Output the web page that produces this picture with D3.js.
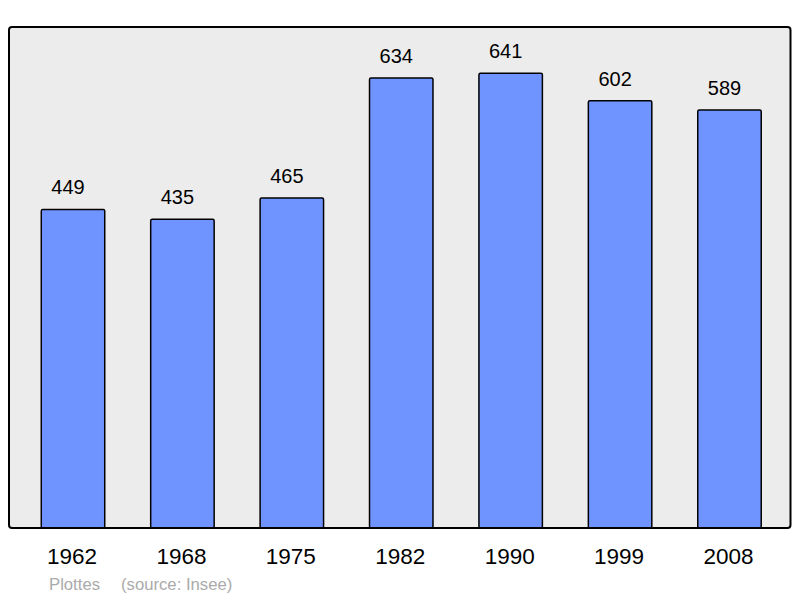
<!DOCTYPE html>
<html>
<head>
<meta charset="utf-8">
<script src="https://cdn.jsdelivr.net/npm/d3@7"></script>
<style>
  body { margin: 0; background: #fff; }
  text { font-family: "Liberation Sans", Arial, sans-serif; }
</style>
</head>
<body>
<svg id="chart" width="800" height="598"></svg>
<script>
// DATA
const years = ["1962", "1968", "1975", "1982", "1990", "1999", "2008"];
const population = [449, 435, 465, 634, 641, 602, 589];
const commune = "Plottes";
const source = "(source: Insee)";

// SETUP: plot frame
const frame = { left: 9, top: 27, right: 790.5, bottom: 528 };

const svg = d3.select("#chart");

// background frame
svg.append("rect")
    .attr("x", frame.left)
    .attr("y", frame.top)
    .attr("width", frame.right - frame.left)
    .attr("height", frame.bottom - frame.top)
    .attr("rx", 3)
    .attr("fill", "#ececec")
    .attr("stroke", "none");

// SCALES
const x = d3.scaleBand()
    .domain(years)
    .range([18.3, 784.2])
    .paddingInner(0.42)
    .paddingOuter(0.21);

const y = d3.scaleLinear()
    .domain([0, 706])
    .range([frame.bottom, frame.top]);

const data = years.map((yr, i) => ({ year: yr, value: population[i] }));

// BARS
svg.selectAll("rect.bar")
    .data(data)
    .enter()
    .append("rect")
    .attr("class", "bar")
    .attr("x", d => x(d.year))
    .attr("y", d => y(d.value))
    .attr("width", x.bandwidth())
    .attr("height", d => y(0) - y(d.value))
    .attr("rx", 1.5)
    .attr("fill", "#7094ff")
    .attr("stroke", "#000")
    .attr("stroke-width", 1.5);

// value labels (sit a bit left of bar centre, as in the original)
svg.selectAll("text.value")
    .data(data)
    .enter()
    .append("text")
    .attr("class", "value")
    .attr("x", d => x(d.year) + x.bandwidth() / 2 - 5)
    .attr("y", d => y(d.value) - 15)
    .attr("text-anchor", "middle")
    .attr("font-size", 20)
    .attr("fill", "#000")
    .text(d => d.value);

// frame border on top
svg.append("rect")
    .attr("x", frame.left)
    .attr("y", frame.top)
    .attr("width", frame.right - frame.left)
    .attr("height", frame.bottom - frame.top)
    .attr("rx", 3)
    .attr("fill", "none")
    .attr("stroke", "#000")
    .attr("stroke-width", 2);

// X AXIS (year labels)
const xAxis = svg.append("g")
    .attr("transform", `translate(0,${frame.bottom})`)
    .call(d3.axisBottom(x).tickSize(0).tickPadding(0));
xAxis.select(".domain").remove();
xAxis.selectAll("text")
    .attr("dy", null)
    .attr("x", -1)
    .attr("y", 36)
    .attr("font-size", 22.5)
    .attr("font-family", "Liberation Sans, Arial, sans-serif")
    .attr("fill", "#000");

// footer
svg.append("text")
    .attr("x", 49)
    .attr("y", 590)
    .attr("font-size", 16.7)
    .attr("fill", "#aaaaaa")
    .text(commune);

svg.append("text")
    .attr("x", 121)
    .attr("y", 590)
    .attr("font-size", 16.7)
    .attr("fill", "#aaaaaa")
    .text(source);
</script>
</body>
</html>
